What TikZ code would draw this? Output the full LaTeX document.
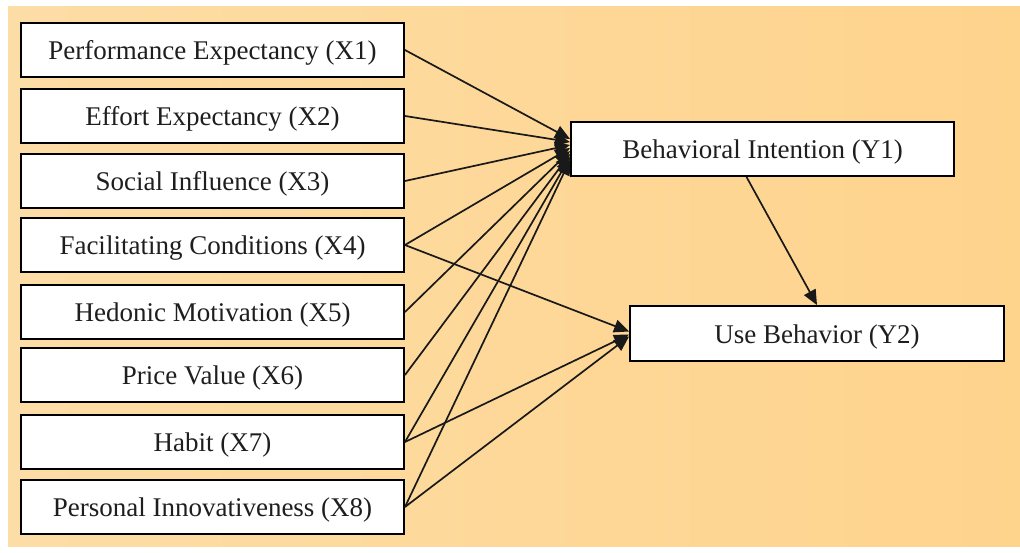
\documentclass[tikz,border=0pt]{standalone}
\usepackage{fontspec}
\setmainfont{Liberation Serif}
\usetikzlibrary{arrows.meta}
\definecolor{bgleft}{RGB}{253,221,166}
\definecolor{bgright}{RGB}{254,211,140}
\definecolor{txt}{RGB}{30,30,30}
\begin{document}
\begin{tikzpicture}[x=1pt,y=-1pt,
  box/.style={draw=black, line width=1.9pt, fill=white, inner sep=0pt,
    text height=22pt, text depth=3pt, text=txt,
    minimum width=383pt, minimum height=54pt, font=\fontsize{27}{30}\selectfont},
  link/.style={draw=black!90, line width=1.7pt, -{Triangle[length=15pt,width=13pt]}}]
\useasboundingbox (0,0) rectangle (1020,553);
\fill[white] (0,0) rectangle (1020,553);
\shade[left color=bgleft, right color=bgright] (8,7) rectangle (1020,546);

\node[box] (x1) at (212.5,50)  {Performance Expectancy (X1)};
\node[box] (x2) at (212.5,116) {Effort Expectancy (X2)};
\node[box] (x3) at (212.5,181) {Social Influence (X3)};
\node[box] (x4) at (212.5,245) {Facilitating Conditions (X4)};
\node[box] (x5) at (212.5,312) {Hedonic Motivation (X5)};
\node[box] (x6) at (212.5,375) {Price Value (X6)};
\node[box] (x7) at (212.5,442) {Habit (X7)};
\node[box] (x8) at (212.5,507) {Personal Innovativeness (X8)};

\node[box] (y1) at (762.5,149) {Behavioral Intention (Y1)};
\node[box, minimum width=374pt, minimum height=55pt] (y2) at (817,333.5) {Use Behavior (Y2)};

\coordinate (t1) at ([yshift=10pt]y1.west);
\coordinate (t2) at ([yshift=7pt]y1.west);
\coordinate (t3) at ([yshift=4pt]y1.west);
\coordinate (t4) at ([yshift=1pt]y1.west);
\coordinate (t5) at ([yshift=-2pt]y1.west);
\coordinate (t6) at ([yshift=-5pt]y1.west);
\coordinate (t7) at ([yshift=-8pt]y1.west);
\coordinate (t8) at ([yshift=-11pt]y1.west);
\coordinate (ys) at ([xshift=-16pt]y1.south);

\draw[link] (x1.east) -- (t1);
\draw[link] (x2.east) -- (t2);
\draw[link] (x3.east) -- (t3);
\draw[link] (x4.east) -- (t4);
\draw[link] (x5.east) -- (t5);
\draw[link] (x6.east) -- (t6);
\draw[link] (x7.east) -- (t7);
\draw[link] (x8.east) -- (t8);

\draw[link] (x4.east) -- ([yshift=2pt]y2.west);
\draw[link] (x7.east) -- ([yshift=-1pt]y2.west);
\draw[link] (x8.east) -- ([yshift=-3pt]y2.west);

\draw[link] (ys) -- (y2.north);
\end{tikzpicture}
\end{document}
